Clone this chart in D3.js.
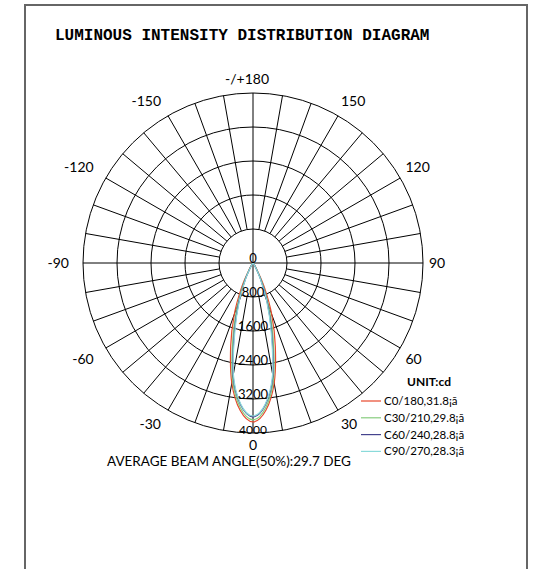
<!DOCTYPE html>
<html>
<head>
<meta charset="utf-8">
<script src="https://cdn.jsdelivr.net/npm/d3@7"></script>
<style>
  html, body { margin: 0; padding: 0; background: #fff; }
  svg { display: block; }
</style>
</head>
<body>
<div id="chart"></div>
<script>
// gamma angles (deg), 0 = straight down
var gammas = [-50,-45,-40,-35,-30,-25,-20,-15,-10,-5,0,5,10,15,20,25,30,35,40,45,50];
// intensity (cd) per C-plane
var c0   = [0,8,20,60,190,640,1290,2030,2870,3480,3740,3480,2870,2030,1290,640,190,60,20,8,0];
var c30  = [0,5,15,45,150,500,1080,1830,2780,3420,3690,3420,2780,1830,1080,500,150,45,15,5,0];
var c60  = [0,4,12,40,130,430,980,1700,2700,3350,3620,3350,2700,1700,980,430,130,40,12,4,0];
var c90  = [0,3,10,35,120,400,930,1640,2660,3330,3600,3330,2660,1640,930,400,120,35,10,3,0];
var seriesNames = ["C0/180,31.8¡ã","C30/210,29.8¡ã","C60/240,28.8¡ã","C90/270,28.3¡ã"];
var seriesColors = ["#e8482c","#86cc7e","#45448e","#8adada"];
var ringTicks = [800,1600,2400,3200,4000];
var angleLabels = ["0","30","60","90","120","150","-/+180","-150","-120","-90","-60","-30"];
var angleValues = [0,30,60,90,120,150,180,-150,-120,-90,-60,-30];

var width = 535, height = 569;
var cx = 253, cy = 263, R = 170;
var font = "Lato, 'Open Sans', sans-serif";

var svg = d3.select("#chart")
    .append("svg")
    .attr("width",width)
    .attr("height",height);

// frame (open at the bottom)
svg.append("path")
    .attr("d","M25,"+height+"V5H527V"+height)
    .attr("fill","none")
    .attr("stroke","#666")
    .attr("stroke-width",2);

svg.append("text")
    .attr("x",55)
    .attr("y",40)
    .attr("font-family","'Liberation Mono', 'Courier New', monospace")
    .attr("font-weight","bold")
    .attr("font-size",16)
    .text("LUMINOUS INTENSITY DISTRIBUTION DIAGRAM");

var r = d3.scaleLinear().domain([0,4000]).range([0,R]);
var g = svg.append("g").attr("transform","translate("+cx+","+cy+")");

// rings
g.append("g").selectAll("circle")
    .data(ringTicks)
    .enter()
    .append("circle")
    .attr("r",d=>r(d))
    .attr("fill","none")
    .attr("stroke","#000")
    .attr("stroke-width",1);

// spokes every 10 deg, axes go through the centre
var spokes = d3.range(0,360,10);
g.append("g").selectAll("line")
    .data(spokes)
    .enter()
    .append("line")
    .each(function(d){
        var a = d*Math.PI/180;
        var r0 = d%90===0 ? 0 : r(ringTicks[0]);
        d3.select(this)
            .attr("x1",r0*Math.sin(a)).attr("y1",r0*Math.cos(a))
            .attr("x2",R*Math.sin(a)).attr("y2",R*Math.cos(a));
    })
    .attr("stroke","#000")
    .attr("stroke-width",1);

// curves
var all = [c0,c30,c60,c90];
var line = d3.lineRadial()
    .angle(d=>Math.PI - d[0]*Math.PI/180)
    .radius(d=>r(d[1]))
    .curve(d3.curveCardinal);
g.append("g").selectAll("path")
    .data(all)
    .enter()
    .append("path")
    .attr("d",s=>line(gammas.map((a,i)=>[a,s[i]])))
    .attr("fill","none")
    .attr("stroke",(d,i)=>seriesColors[i])
    .attr("stroke-width",1.2);

// ring labels
g.append("g").selectAll("text")
    .data([0].concat(ringTicks))
    .enter()
    .append("text")
    .attr("x",0)
    .attr("y",d=>r(d)+(d===4000?1:0))
    .attr("text-anchor","middle")
    .attr("font-family",font)
    .attr("font-size",d=>d===4000?12:13)
    .text(d=>d);

// angle labels
g.append("g").selectAll("text")
    .data(angleValues)
    .enter()
    .append("text")
    .each(function(d,i){
        var a = d*Math.PI/180;
        var s = Math.sin(a);
        var anchor = Math.abs(s)<0.01 ? "middle" : (s>0 ? "start" : "end");
        var rx = s>0 ? 176 : 184;
        var ry = 184 + 10*s*s;
        d3.select(this)
            .attr("x",Math.abs(s)<0.01 ? (d===180?-6:0) : rx*s)
            .attr("y",(d===0?182.5:ry)*Math.cos(a))
            .attr("text-anchor",anchor)
            .text(angleLabels[i]);
    })
    .attr("dy","0.35em")
    .attr("font-family",font)
    .attr("font-size",14);

svg.append("text")
    .attr("x",229)
    .attr("y",465.5)
    .attr("text-anchor","middle")
    .attr("font-family",font)
    .attr("font-size",13.5)
    .text("AVERAGE BEAM ANGLE(50%):29.7 DEG");

// legend
svg.append("text")
    .attr("x",429)
    .attr("y",386)
    .attr("text-anchor","middle")
    .attr("font-family",font)
    .attr("font-weight","bold")
    .attr("font-size",12)
    .text("UNIT:cd");
var legend = svg.append("g").selectAll("g")
    .data(seriesNames)
    .enter()
    .append("g")
    .attr("transform",(d,i)=>"translate(361,"+(401+i*16.8)+")");
legend.append("line")
    .attr("x2",20)
    .attr("stroke",(d,i)=>seriesColors[i])
    .attr("stroke-width",1.2);
legend.append("text")
    .attr("x",23)
    .attr("dy","0.35em")
    .attr("font-family",font)
    .attr("font-size",11.5)
    .text(d=>d);
</script>
</body>
</html>
